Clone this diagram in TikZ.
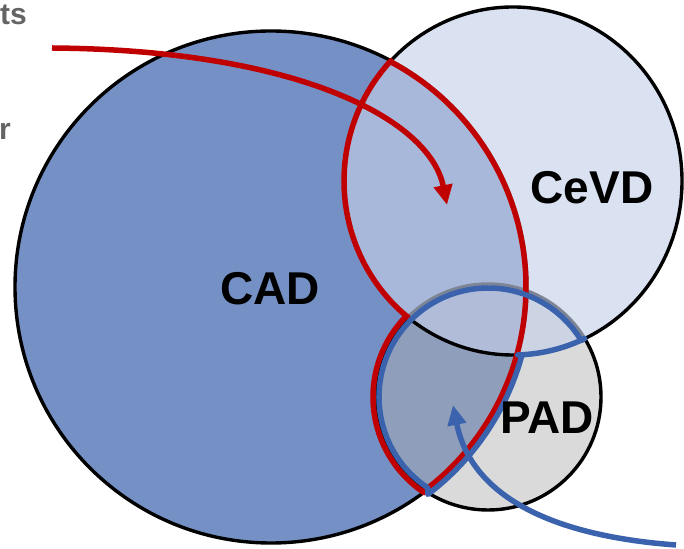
\documentclass[tikz,border=0pt]{standalone}
\usepackage{fontspec}
\setmainfont{Liberation Sans}
\usetikzlibrary{arrows.meta,calc}
\definecolor{cadfill}{RGB}{116,144,196}
\definecolor{cevdfill}{RGB}{197,208,233}
\definecolor{padfill}{RGB}{175,175,175}
\definecolor{redline}{RGB}{192,0,0}
\definecolor{blueline}{RGB}{59,99,173}
\definecolor{graytext}{RGB}{100,100,100}
\begin{document}
\begin{tikzpicture}[x=1pt,y=1pt,
  setbox/.style={draw=black, line width=3.4pt},
  lens/.style={line width=5.5pt, line join=round},
  arrowline/.style={line width=5.5pt, -{Triangle[length=20pt,width=18pt]}},
  setlabel/.style={font=\bfseries\fontsize{46}{46}\selectfont, inner sep=0pt},
  cuttext/.style={font=\bfseries\fontsize{30}{30}\selectfont, text=graytext, inner sep=0pt, anchor=base east}]
\useasboundingbox (0,0) rectangle (684,548);
\coordinate (A) at (271,261);
\coordinate (C) at (513,367);
\coordinate (P) at (488,151);
% sets
\filldraw[setbox, fill=cadfill] (A) circle[radius=256];
\filldraw[setbox, fill=padfill, fill opacity=0.46] (P) circle[radius=113];
\filldraw[setbox, fill=cevdfill, fill opacity=0.64] (C) ellipse[x radius=169, y radius=174];
% red outline: CAD and (CeVD or PAD)
\draw[lens, redline] ($(A)+(62.1:255)$) arc[start angle=62.1, end angle=-52.9, radius=255]
  -- ($(P)+(236.4:115)$) arc[start angle=236.4, end angle=135.1, radius=115]
  -- ($(C)+(231.6:169 and 174)$) arc[start angle=231.6, end angle=136.3, x radius=169, y radius=174]
  -- cycle;
% blue outline: PAD and (CAD or CeVD)
\draw[lens, blueline] ($(P)+(236.4:109)$) arc[start angle=236.4, end angle=31.2, radius=109]
  -- ($(C)+(295.1:169 and 174)$) arc[start angle=295.1, end angle=271.6, x radius=169, y radius=174]
  -- ($(A)+(-15.4:260)$) arc[start angle=-15.4, end angle=-52.9, radius=260]
  -- cycle;
% labels
\node[setlabel] (cadlabel) at (270,259) {CAD};
\node[setlabel] (cevdlabel) at (592,360) {CeVD};
\node[setlabel] (padlabel) at (547,130) {PAD};
\node[cuttext] (ts) at (27,523) {ts};
\node[cuttext] (r) at (11,408) {r};
% arrows
\coordinate (rs) at (52,500);
\coordinate (re) at (447,343);
\draw[arrowline, redline] (rs) .. controls (300,498) and (430,428) .. (re);
\coordinate (bs) at (676,3);
\coordinate (be) at (453,143);
\draw[arrowline, blueline] (bs) .. controls (540,13) and (470,58) .. (be);
\end{tikzpicture}
\end{document}
